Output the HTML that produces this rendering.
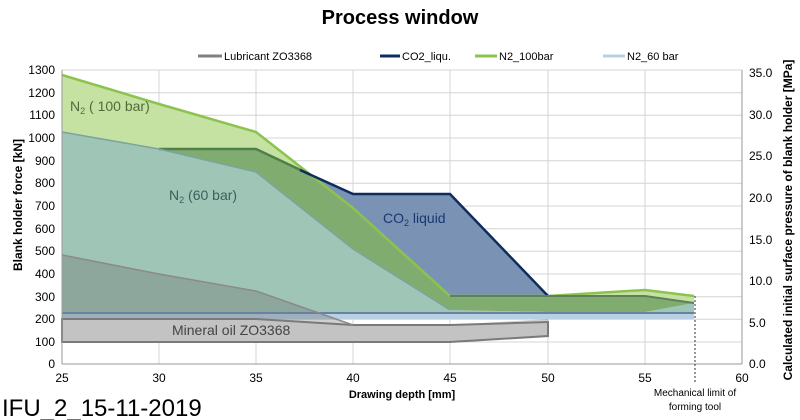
<!DOCTYPE html>
<html><head><meta charset="utf-8"><style>
html,body{margin:0;padding:0;background:#fff;width:800px;height:420px;overflow:hidden}
svg{display:block;font-family:"Liberation Sans",Arial,sans-serif}
</style></head><body>
<svg width="800" height="420" viewBox="0 0 800 420">
<text x="400" y="24" font-size="20" font-weight="bold" text-anchor="middle">Process window</text>
<!-- legend -->
<g font-size="11" fill="#000">
<line x1="198" y1="56" x2="222" y2="56" stroke="#808080" stroke-width="3"/><text x="224" y="60">Lubricant ZO3368</text>
<line x1="380" y1="56" x2="400" y2="56" stroke="#0e2c5e" stroke-width="3"/><text x="402" y="60">CO2_liqu.</text>
<line x1="475" y1="56" x2="497" y2="56" stroke="#8cc34e" stroke-width="3"/><text x="499" y="60">N2_100bar</text>
<line x1="603" y1="56" x2="625" y2="56" stroke="#b8d0e4" stroke-width="3"/><text x="627" y="60">N2_60 bar</text>
</g>
<!-- grid -->
<g stroke="#d4d4d4" stroke-width="1">
<line x1="62" x2="742" y1="70" y2="70"/><line x1="62" x2="742" y1="92.7" y2="92.7"/><line x1="62" x2="742" y1="115.3" y2="115.3"/><line x1="62" x2="742" y1="138" y2="138"/><line x1="62" x2="742" y1="160.7" y2="160.7"/><line x1="62" x2="742" y1="183.3" y2="183.3"/><line x1="62" x2="742" y1="206" y2="206"/><line x1="62" x2="742" y1="228.7" y2="228.7"/><line x1="62" x2="742" y1="251.3" y2="251.3"/><line x1="62" x2="742" y1="274" y2="274"/><line x1="62" x2="742" y1="296.7" y2="296.7"/><line x1="62" x2="742" y1="319.3" y2="319.3"/><line x1="62" x2="742" y1="342" y2="342"/>
<line x1="159" x2="159" y1="70" y2="364"/><line x1="256" x2="256" y1="70" y2="364"/><line x1="353" x2="353" y1="70" y2="364"/><line x1="450" x2="450" y1="70" y2="364"/><line x1="548" x2="548" y1="70" y2="364"/><line x1="645" x2="645" y1="70" y2="364"/>
</g>
<!-- light blue band -->
<polygon points="62,307 450,307 694,312 694,319 62,319" fill="#b9d0e2"/>
<!-- teal N2 60 -->
<polygon points="62,132 159,149 256,172 353,249 450,310 548,312 645,312 694,303 694,313 62,313" fill="#9fc5b7"/>
<!-- light green N2 100 -->
<polygon points="62,75 159,104 256,132 353,208 450,296 548,296 645,290 694,296 694,303 645,312 548,312 450,310 353,249 256,172 159,149 62,132" fill="#c6e2a2"/>
<!-- dark green overlap -->
<polygon points="159,149 256,149 309,174 353,208 450,296 548,296 645,296 694,303 645,312 548,312 450,310 353,249 256,172" fill="#80ad6f"/>
<!-- blue CO2 -->
<polygon points="309,174 353,194 450,194 548,296 450,296 353,208" fill="#7a93b4"/>
<polyline points="62,75 159,104 256,132 353,208 450,296 548,296 645,290 694,296" fill="none" stroke="#8cc34e" stroke-width="2.5"/>
<polyline points="159,149 256,149 309,174" fill="none" stroke="#4f7f4a" stroke-width="2.5"/>
<polyline points="300,170 353,194 450,194 548,296" fill="none" stroke="#0e2c5e" stroke-width="2.5"/>
<polyline points="450,296 548,296 645,296 694,303" fill="none" stroke="#5f7f5a" stroke-width="2"/>
<polyline points="62,132 159,149 256,172 353,249 450,310" fill="none" stroke="#7aa4a0" stroke-width="1.5"/>
<!-- lubricant -->
<polygon points="62,255 159,274 256,291 353,325 450,325 548,319 548,336 450,342 62,342" fill="rgba(100,100,100,0.3)"/>
<line x1="62" y1="313" x2="694" y2="313" stroke="#6683a3" stroke-width="2"/>
<polygon points="62,319 256,319 353,325 450,325 548,322 548,336 450,342 62,342" fill="#c3c3c3" stroke="#7a7a7a" stroke-width="2"/>
<polyline points="62,255 159,274 256,291 353,325" fill="none" stroke="#8a8a8a" stroke-width="1.5"/>
<!-- labels in plot -->
<text x="70" y="111" font-size="14" fill="#4f6b3a">N<tspan font-size="9" dy="3">2</tspan><tspan dy="-3"> ( 100 bar)</tspan></text>
<text x="169" y="200" font-size="14" fill="#3e5e5a">N<tspan font-size="9" dy="3">2</tspan><tspan dy="-3"> (60 bar)</tspan></text>
<text x="383" y="223" font-size="14" fill="#1a3770">CO<tspan font-size="9" dy="3">2</tspan><tspan dy="-3"> liquid</tspan></text>
<text x="172" y="335" font-size="14" fill="#444">Mineral oil ZO3368</text>
<!-- axes -->
<line x1="62" y1="364" x2="742" y2="364" stroke="#999"/>
<line x1="62" y1="70" x2="62" y2="364" stroke="#999"/>
<line x1="742" y1="70" x2="742" y2="364" stroke="#999"/>
<line x1="695" y1="296" x2="695" y2="382" stroke="#333" stroke-dasharray="2,2"/>
<g font-size="12" fill="#000" text-anchor="end">
<text x="55" y="74">1300</text><text x="55" y="97">1200</text><text x="55" y="119">1100</text><text x="55" y="142">1000</text><text x="55" y="165">900</text><text x="55" y="187">800</text><text x="55" y="210">700</text><text x="55" y="233">600</text><text x="55" y="255">500</text><text x="55" y="278">400</text><text x="55" y="301">300</text><text x="55" y="323">200</text><text x="55" y="346">100</text><text x="55" y="368">0</text>
</g>
<g font-size="12" fill="#000" text-anchor="start">
<text x="749" y="77">35.0</text><text x="749" y="119">30.0</text><text x="749" y="160">25.0</text><text x="749" y="202">20.0</text><text x="749" y="244">15.0</text><text x="749" y="285">10.0</text><text x="749" y="327">5.0</text><text x="749" y="368">0.0</text>
</g>
<g font-size="12" fill="#000" text-anchor="middle">
<text x="62" y="382">25</text><text x="159" y="382">30</text><text x="256" y="382">35</text><text x="353" y="382">40</text><text x="450" y="382">45</text><text x="548" y="382">50</text><text x="645" y="382">55</text><text x="742" y="382">60</text>
</g>
<text x="402" y="398" font-size="11" font-weight="bold" text-anchor="middle">Drawing depth [mm]</text>
<text x="695" y="396" font-size="10" text-anchor="middle">Mechanical limit of</text>
<text x="695" y="410" font-size="10" text-anchor="middle">forming tool</text>
<text transform="translate(22,205) rotate(-90)" font-size="12" font-weight="bold" text-anchor="middle">Blank holder force [kN]</text>
<text transform="translate(792,220) rotate(-90)" font-size="12" font-weight="bold" text-anchor="middle">Calculated initial surface pressure of blank holder [MPa]</text>
<text x="2" y="416" font-size="24" fill="#000">IFU_2_15-11-2019</text>
</svg>
</body></html>
